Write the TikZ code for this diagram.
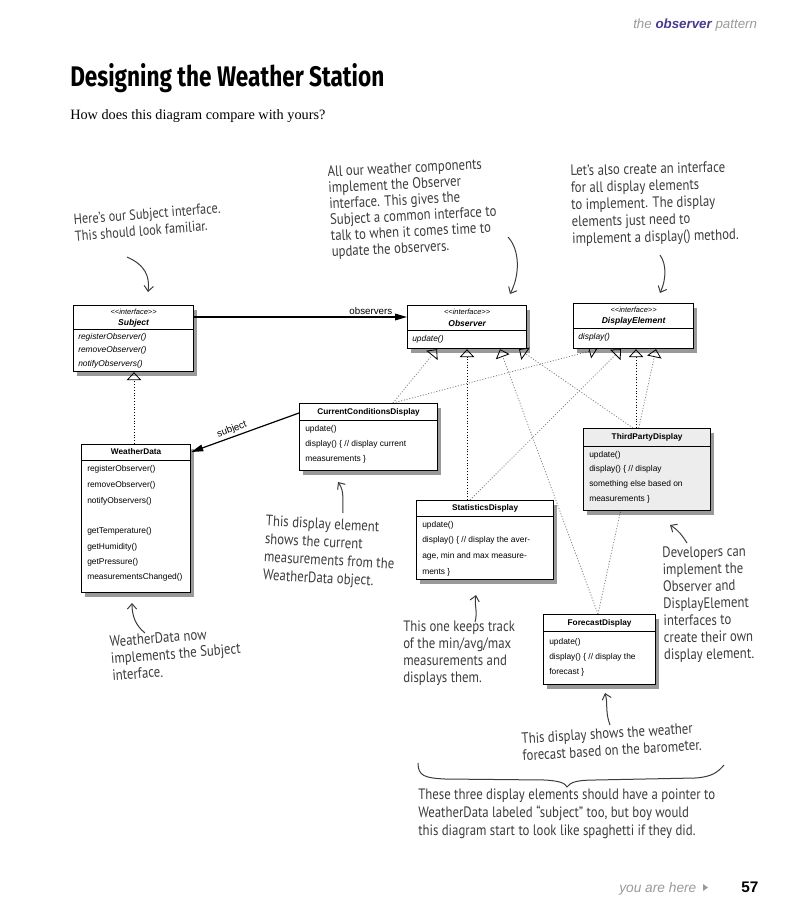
\documentclass[tikz,border=0pt]{standalone}
\usepackage{fontspec}
\setmainfont{Liberation Sans}
\newfontfamily\hand{PT Sans}[FakeStretch=0.85]
\newfontfamily\serifs{Liberation Serif}
\newfontfamily\titlef{Fira Sans}
\usetikzlibrary{arrows.meta,calc,shadows}
\definecolor{notec}{HTML}{3C3C3C}
\definecolor{hdrgray}{HTML}{9A9A9A}
\definecolor{hdrpurple}{HTML}{4A3A8E}
\definecolor{tpdfill}{HTML}{EDEDED}
\pgfdeclarelayer{bg}
\pgfsetlayers{bg,main}
\begin{document}
\begin{tikzpicture}[x=0.75pt,y=-0.75pt,
  box/.style={draw=black, line width=0.9pt, fill=white, rectangle, inner sep=0pt, anchor=north west,
    drop shadow={shadow xshift=2.8pt, shadow yshift=-3.4pt, opacity=0.4, fill=black}},
  sepl/.style={line width=0.6pt},
  meth/.style={anchor=west, inner sep=0pt, font=\fontsize{6.3}{7}\selectfont},
  imeth/.style={anchor=west, inner sep=0pt, font=\fontsize{6.3}{7}\selectfont\itshape},
  stereo/.style={anchor=center, inner sep=0pt, font=\fontsize{5.6}{6}\selectfont\itshape},
  ititle/.style={anchor=center, inner sep=0pt, font=\fontsize{6.4}{7}\selectfont\bfseries\itshape},
  ctitle/.style={anchor=center, inner sep=0pt, font=\fontsize{6.2}{7}\selectfont\bfseries},
  gdot/.style={draw=black!50, line width=0.6pt, dash pattern=on 0.8pt off 1.3pt,
    -{Triangle[open, length=6pt, width=11pt, color=black, line width=0.6pt]}},
  kdot/.style={draw=black, line width=0.7pt, dash pattern=on 0.8pt off 1.3pt,
    -{Triangle[open, length=6pt, width=11pt, color=black, line width=0.6pt]}},
  assoc/.style={draw=black, line width=0.9pt, -{Triangle[length=9pt, width=5pt]}},
  note/.style={font=\hand\fontsize{11.3}{12.75}\selectfont, text=notec, align=left, inner sep=0pt, anchor=north west},
  harrow/.style={draw=notec, line width=0.75pt, -{Straight Barb[length=4pt, width=7pt]}}
]
\useasboundingbox (0,0) rectangle (811,914);

% header, title, footer
\node[anchor=base west, inner sep=0pt, font=\fontsize{10}{12}\selectfont\itshape, text=hdrgray] (hdr) at (633,28) {the \textcolor{hdrpurple}{\bfseries observer} pattern};
\node[anchor=base west, inner sep=0pt] (title) at (70,86) {\resizebox{235.5pt}{17.25pt}{\titlef\bfseries Designing the Weather Station}};
\node[anchor=base west, inner sep=0pt, font=\serifs\fontsize{10.7}{12}\selectfont] (subt) at (70,119) {How does this diagram compare with yours?};
\node[anchor=base west, inner sep=0pt, font=\fontsize{10.3}{12}\selectfont\itshape, text=hdrgray] (yah) at (619,892) {you are here};
\fill[hdrgray] (703,884) -- (708,887.5) -- (703,891) -- cycle;
\node[anchor=base west, inner sep=0pt, font=\fontsize{11.5}{12}\selectfont\bfseries] (pg) at (741,892) {57};

% Subject
\node[box, minimum width=120*0.75pt, minimum height=66*0.75pt] (sub) at (73,305) {};
\node[stereo] at ($(sub.north)+(0,7)$) {<{}<interface>{}>};
\node[ititle] at ($(sub.north)+(0,18)$) {Subject};
\draw[sepl] ($(sub.north west)+(0,24)$) -- ($(sub.north east)+(0,24)$);
\node[imeth] at ($(sub.north west)+(5,32)$) {registerObserver()};
\node[imeth] at ($(sub.north west)+(5,45)$) {removeObserver()};
\node[imeth] at ($(sub.north west)+(5,59)$) {notifyObservers()};

% Observer
\node[box, minimum width=119*0.75pt, minimum height=43*0.75pt] (obs) at (407,305) {};
\node[stereo] at ($(obs.north)+(0,7)$) {<{}<interface>{}>};
\node[ititle] at ($(obs.north)+(0,18)$) {Observer};
\draw[sepl] ($(obs.north west)+(0,25)$) -- ($(obs.north east)+(0,25)$);
\node[imeth] at ($(obs.north west)+(5,34)$) {update()};

% DisplayElement
\node[box, minimum width=120*0.75pt, minimum height=45*0.75pt] (de) at (573,303) {};
\node[stereo] at ($(de.north)+(0,7)$) {<{}<interface>{}>};
\node[ititle] at ($(de.north)+(0,18)$) {DisplayElement};
\draw[sepl] ($(de.north west)+(0,25)$) -- ($(de.north east)+(0,25)$);
\node[imeth] at ($(de.north west)+(5,34)$) {display()};

% WeatherData
\node[box, minimum width=109*0.75pt, minimum height=148*0.75pt] (wd) at (81,444) {};
\node[ctitle] at ($(wd.north)+(0,8)$) {WeatherData};
\draw[sepl] ($(wd.north west)+(0,16)$) -- ($(wd.north east)+(0,16)$);
\node[meth] at ($(wd.north west)+(6,25)$) {registerObserver()};
\node[meth] at ($(wd.north west)+(6,41)$) {removeObserver()};
\node[meth] at ($(wd.north west)+(6,57)$) {notifyObservers()};
\node[meth] at ($(wd.north west)+(6,87)$) {getTemperature()};
\node[meth] at ($(wd.north west)+(6,103)$) {getHumidity()};
\node[meth] at ($(wd.north west)+(6,118)$) {getPressure()};
\node[meth] at ($(wd.north west)+(6,133)$) {measurementsChanged()};

% CurrentConditionsDisplay
\node[box, minimum width=138*0.75pt, minimum height=67*0.75pt] (ccd) at (299,403) {};
\node[ctitle] at ($(ccd.north)+(0,9)$) {CurrentConditionsDisplay};
\draw[sepl] ($(ccd.north west)+(0,17)$) -- ($(ccd.north east)+(0,17)$);
\node[meth] at ($(ccd.north west)+(6,26)$) {update()};
\node[meth] at ($(ccd.north west)+(6,41)$) {display() \{ // display current};
\node[meth] at ($(ccd.north west)+(6,56)$) {measurements \}};

% ThirdPartyDisplay
\node[box, fill=tpdfill, minimum width=127*0.75pt, minimum height=82*0.75pt] (tpd) at (583,428) {};
\node[ctitle] at ($(tpd.north)+(0,9)$) {ThirdPartyDisplay};
\draw[sepl] ($(tpd.north west)+(0,18)$) -- ($(tpd.north east)+(0,18)$);
\node[meth] at ($(tpd.north west)+(6,27)$) {update()};
\node[meth] at ($(tpd.north west)+(6,41)$) {display() \{ // display};
\node[meth] at ($(tpd.north west)+(6,56)$) {something else based on};
\node[meth] at ($(tpd.north west)+(6,71)$) {measurements \}};

% StatisticsDisplay
\node[box, minimum width=137*0.75pt, minimum height=79*0.75pt] (st) at (416,500) {};
\node[ctitle] at ($(st.north)+(0,8)$) {StatisticsDisplay};
\draw[sepl] ($(st.north west)+(0,16)$) -- ($(st.north east)+(0,16)$);
\node[meth] at ($(st.north west)+(6,25)$) {update()};
\node[meth] at ($(st.north west)+(6,40)$) {display() \{ // display the aver-};
\node[meth] at ($(st.north west)+(6,56)$) {age, min and max measure-};
\node[meth] at ($(st.north west)+(6,72)$) {ments \}};

% ForecastDisplay
\node[box, minimum width=112*0.75pt, minimum height=70*0.75pt] (fc) at (543,614) {};
\node[ctitle] at ($(fc.north)+(0,9)$) {ForecastDisplay};
\draw[sepl] ($(fc.north west)+(0,17)$) -- ($(fc.north east)+(0,17)$);
\node[meth] at ($(fc.north west)+(6,28)$) {update()};
\node[meth] at ($(fc.north west)+(6,43)$) {display() \{ // display the};
\node[meth] at ($(fc.north west)+(6,58)$) {forecast \}};

% connectors
\begin{pgfonlayer}{bg}
\draw[kdot] ($(wd.north west)+(53,0)$) -- ($(sub.south west)+(61,0)$);
\draw[gdot] ($(ccd.north west)+(94,0)$) -- ($(obs.south west)+(30,0)$);
\draw[gdot] ($(ccd.north west)+(94,0)$) -- ($(de.south west)+(24,0)$);
\draw[kdot] ($(st.north west)+(51,0)$) -- ($(obs.south west)+(60,0)$);
\draw[gdot] ($(st.north west)+(54,0)$) -- ($(de.south west)+(48,0)$);
\draw[gdot] ($(fc.north west)+(55,0)$) -- ($(obs.south west)+(93,0)$);
\draw[gdot] ($(fc.north west)+(55,0)$) -- ($(de.south west)+(83,0)$);
\draw[gdot] ($(tpd.north west)+(50,0)$) -- ($(obs.south west)+(112,0)$);
\draw[kdot] ($(tpd.north west)+(53,0)$) -- ($(de.south west)+(63,0)$);
\end{pgfonlayer}
\draw[assoc] ($(sub.north east)+(0,12)$) -- ($(obs.north west)+(0,12)$)
  node[pos=0.83, above=1pt, inner sep=0pt, font=\fontsize{7.3}{8}\selectfont] {observers};
\draw[assoc] ($(ccd.north west)+(0,10)$) -- ($(wd.north east)+(0,8)$)
  node[pos=0.6, above=1.5pt, sloped, inner sep=0pt, font=\fontsize{7.3}{8}\selectfont] {subject};

% notes
\node[note, font=\hand\fontsize{10.9}{12.5}\selectfont, rotate=4.5] (n1) at (73,214) {Here’s our Subject interface.\\This should look familiar.};
\node[note, font=\hand\fontsize{11.3}{12}\selectfont, rotate=3] (n2) at (327,166) {All our weather components\\implement the Observer\\interface. This gives the\\Subject a common interface to\\talk to when it comes time to\\update the observers.};
\node[note, rotate=1.5] (n3) at (570,165) {Let’s also create an interface\\for all display elements\\to implement. The display\\elements just need to\\implement a display() method.};
\node[note, font=\hand\fontsize{11.3}{13.5}\selectfont, rotate=-3] (n4) at (266,515) {This display element\\shows the current\\measurements from the\\WeatherData object.};
\node[note, rotate=4.5] (n5) at (109,636) {WeatherData now\\implements the Subject\\interface.};
\node[note] (n6) at (403,621) {This one keeps track\\of the min/avg/max\\measurements and\\displays them.};
\node[note, rotate=1] (n7) at (662,547) {Developers can\\implement the\\Observer and\\DisplayElement\\interfaces to\\create their own\\display element.};
\node[note, rotate=3.5] (n8) at (521,733) {This display shows the weather\\forecast based on the barometer.};
\node[note, font=\hand\fontsize{11.3}{13.5}\selectfont] (n9) at (418,789) {These three display elements should have a pointer to\\WeatherData labeled “subject” too, but boy would\\this diagram start to look like spaghetti if they did.};

% hand arrows
\draw[harrow] (127,257) .. controls (145,265) and (150,276) .. (148,292);
\draw[harrow] (508,237) .. controls (520,250) and (520,275) .. (510,294);
\draw[harrow] (660,255) .. controls (667,265) and (666,280) .. (660,293);
\draw[harrow] (343,513) .. controls (342,500) and (345,492) .. (338,482);
\draw[harrow] (145,633) .. controls (135,625) and (132,615) .. (132,603);
\draw[harrow] (475,622) .. controls (478,612) and (474,604) .. (476,595);
\draw[harrow] (687,543) .. controls (682,535) and (678,530) .. (670,525);
\draw[harrow] (610,725) .. controls (605,712) and (608,703) .. (605,693);
\draw[draw=notec, line width=0.75pt] (418,763) .. controls (418,776) and (425,778) .. (445,779) -- (545,780) .. controls (560,781) and (565,783) .. (567,787) .. controls (570,782) and (578,780) .. (595,780) -- (695,778) .. controls (712,777) and (718,772) .. (724,765);
\end{tikzpicture}
\end{document}
